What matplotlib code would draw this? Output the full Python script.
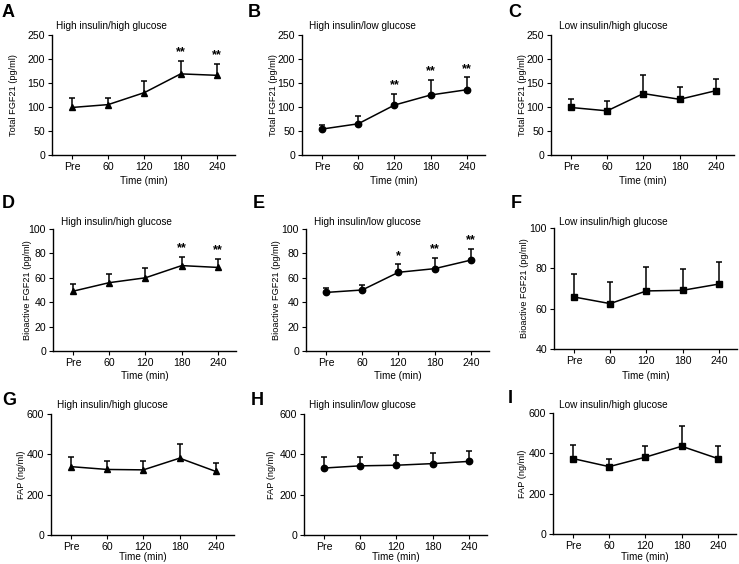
import numpy as np
import matplotlib
matplotlib.use('Agg')
import matplotlib.pyplot as plt

plt.rcParams['font.family'] = ['Liberation Sans', 'DejaVu Sans']

# --- data (mean and upper error) ---
time_labels = ['Pre', '60', '120', '180', '240']

total_hihg_mean = [99, 105, 130, 169, 166]
total_hihg_err = [19, 14, 25, 27, 24]
total_hilg_mean = [54, 65, 104, 125, 136]
total_hilg_err = [8, 16, 23, 31, 26]
total_lihg_mean = [99, 92, 128, 116, 134]
total_lihg_err = [17, 21, 38, 25, 24]

bio_hihg_mean = [49, 56, 60, 70, 68.5]
bio_hihg_err = [6, 7.5, 8, 7, 7]
bio_hilg_mean = [48, 50, 64.5, 67.5, 74.5]
bio_hilg_err = [4, 4.5, 6.5, 9, 9.5]
bio_lihg_mean = [65.8, 62.5, 68.8, 69.1, 72.2]
bio_lihg_err = [11.2, 10.8, 12, 10.7, 11.1]

fap_hihg_mean = [339, 325, 323, 381, 315]
fap_hihg_err = [48, 44, 46, 69, 44]
fap_hilg_mean = [332, 343, 346, 354, 365]
fap_hilg_err = [53, 42, 51, 54, 53]
fap_lihg_mean = [374, 334, 381, 435, 374]
fap_lihg_err = [65, 40, 53, 100, 61]

stars_total_hihg = ['', '', '', '**', '**']
stars_total_hilg = ['', '', '**', '**', '**']
stars_bio_hihg = ['', '', '', '**', '**']
stars_bio_hilg = ['', '', '*', '**', '**']
no_stars = [''] * 5

cond_titles = ['High insulin/high glucose', 'High insulin/low glucose', 'Low insulin/high glucose']
ylabels = ['Total FGF21 (pg/ml)', 'Bioactive FGF21 (pg/ml)', 'FAP (ng/ml)']

W, H = 739, 564
fig = plt.figure(figsize=(W / 100, H / 100), dpi=100)


def add_ax(left, top, bottom, width=183):
    return fig.add_axes([left / W, 1 - bottom / H, width / W, (bottom - top) / H])


# (letter, left, top, bottom, mean, err, stars, marker, ylim, yticks, ylabel x px, title x, title y, xlabel y, letter x, letter y)
panels = [
    ('A', 52, 35, 155, total_hihg_mean, total_hihg_err, stars_total_hihg, '^', (0, 250), range(0, 251, 50), 18, 56, 26, 176, 2, 4),
    ('B', 302, 35, 155, total_hilg_mean, total_hilg_err, stars_total_hilg, 'o', (0, 250), range(0, 251, 50), 278, 309, 26, 176, 248, 4),
    ('C', 551, 35, 155, total_lihg_mean, total_lihg_err, no_stars, 's', (0, 250), range(0, 251, 50), 527, 559, 26, 176, 508, 4),
    ('D', 53, 229, 351, bio_hihg_mean, bio_hihg_err, stars_bio_hihg, '^', (0, 100), range(0, 101, 20), 32, 61, 222, 371, 2, 195),
    ('E', 306, 229, 351, bio_hilg_mean, bio_hilg_err, stars_bio_hilg, 'o', (0, 100), range(0, 101, 20), 281, 314, 222, 371, 253, 195),
    ('F', 554, 228, 349, bio_lihg_mean, bio_lihg_err, no_stars, 's', (40, 100), range(40, 101, 20), 529, 559, 222, 371, 511, 195),
    ('G', 51, 414, 535, fap_hihg_mean, fap_hihg_err, no_stars, '^', (0, 600), range(0, 601, 200), 26, 57, 405, 552, 2, 392),
    ('H', 304, 414, 535, fap_hilg_mean, fap_hilg_err, no_stars, 'o', (0, 600), range(0, 601, 200), 276, 309, 405, 552, 251, 392),
    ('I', 553, 413, 534, fap_lihg_mean, fap_lihg_err, no_stars, 's', (0, 600), range(0, 601, 200), 527, 559, 405, 552, 508, 390),
]

x = np.arange(len(time_labels))
msize = {'^': 5, 'o': 4.6, 's': 4.3}

for i, (letter, left, top, bottom, mean, err, stars, mk, ylim, yticks,
        ylx, tx, ty, xly, lx, ly) in enumerate(panels):
    ax = add_ax(left, top, bottom)
    width = 183
    mean = np.array(mean, dtype=float)
    err = np.array(err, dtype=float)

    # upper-only error bars
    ax.vlines(x, mean, mean + err, color='black', lw=1.1)
    ax.plot(x, mean + err, ls='none', marker='_', ms=4.6, mew=1.1, color='black')
    ax.plot(x, mean, color='black', lw=1.1, marker=mk, ms=msize[mk],
            mfc='black', mec='black', zorder=3)

    for xi, yi, s in zip(x, mean + err, stars):
        if s:
            ax.annotate(s, (xi, yi), xytext=(0, 4), textcoords='offset points',
                        ha='center', va='baseline', fontsize=9, fontweight='bold')

    ax.set_xlim(-0.55, 4.5)
    ax.set_ylim(*ylim)
    ax.set_xticks(x)
    ax.set_xticklabels(time_labels)
    ax.set_yticks(list(yticks))
    for sp in ['top', 'right']:
        ax.spines[sp].set_visible(False)
    for sp in ['left', 'bottom']:
        ax.spines[sp].set_linewidth(1)
    ax.tick_params(axis='both', length=3, width=0.8, labelsize=7.6, pad=2)

    ax.set_ylabel(ylabels[i // 3], fontsize=6.6)
    ax.yaxis.set_label_coords((ylx - left) / width, 0.5)
    ax.set_xlabel('Time (min)', fontsize=7.2)
    ax.xaxis.set_label_coords(0.5, -(xly - bottom) / (bottom - top))

    fig.text(tx / W, 1 - ty / H, cond_titles[i % 3], fontsize=7.2, ha='left', va='center')
    fig.text(lx / W, 1 - ly / H, letter, fontsize=13, fontweight='bold', ha='left', va='top')

fig.savefig('out.png', dpi=100)
